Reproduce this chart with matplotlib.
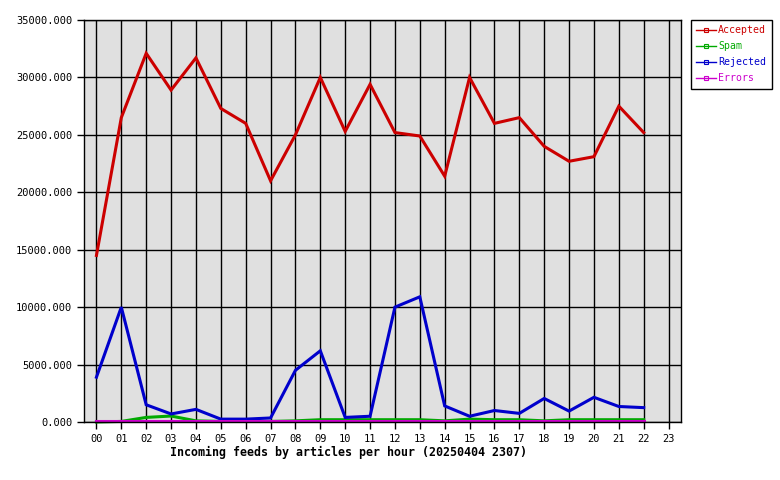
import matplotlib
matplotlib.use('Agg')
import matplotlib.pyplot as plt
from matplotlib.lines import Line2D
from matplotlib.ticker import FormatStrFormatter

hours = ['00', '01', '02', '03', '04', '05', '06', '07', '08', '09', '10', '11',
         '12', '13', '14', '15', '16', '17', '18', '19', '20', '21', '22', '23']

accepted = [14500, 26500, 32100, 28900, 31700, 27300, 26000, 21000, 25000, 30000,
            25300, 29400, 25200, 24900, 21400, 30000, 26000, 26500, 24000, 22700,
            23100, 27500, 25200]
spam = [0, 50, 400, 520, 100, 50, 50, 50, 100, 200, 200, 200, 200, 200, 100, 250,
        200, 200, 100, 200, 200, 200, 200]
rejected = [3900, 10000, 1500, 700, 1100, 250, 250, 350, 4500, 6200, 400, 500,
            10000, 10900, 1400, 500, 1000, 750, 2050, 950, 2150, 1350, 1250]
errors = [60] * 23

series = [('Accepted', accepted, '#cc0000'),
          ('Spam', spam, '#00aa00'),
          ('Rejected', rejected, '#0000cc'),
          ('Errors', errors, '#cc00cc')]

plt.rcParams['font.family'] = 'DejaVu Sans Mono'

fig = plt.figure(figsize=(7.8, 4.8), dpi=100)
ax = fig.add_axes([84 / 780, 1 - 422 / 480, (681 - 84) / 780, (422 - 20) / 480])
ax.set_facecolor('#e0e0e0')

x = list(range(len(accepted)))
handles = []
for name, vals, col in series:
    ax.plot(x, vals, color=col, linewidth=2.2, solid_joinstyle='miter', clip_on=False)
    handles.append(Line2D([0], [0], color=col, linewidth=1, marker='s',
                          markersize=3, markerfacecolor='none', markeredgewidth=0.8))

ax.set_xlim(-0.5, 23.5)
ax.set_ylim(0, 35000)
ax.set_xticks(range(24))
ax.set_xticklabels(hours)
ax.set_yticks(range(0, 35001, 5000))
ax.yaxis.set_major_formatter(FormatStrFormatter('%.3f'))
ax.grid(True, color='black', linewidth=1)
ax.set_axisbelow(True)
ax.tick_params(labelsize=7.5, length=5, width=1, color='black')
for s in ax.spines.values():
    s.set_linewidth(1)

fig.text(348 / 780, 1 - 452 / 480, 'Incoming feeds by articles per hour (20250404 2307)',
         ha='center', va='center', fontsize=8.4, fontweight='bold')

leg = fig.legend(handles, [s[0] for s in series], loc='upper left',
                 bbox_to_anchor=(691 / 780, 1 - 20 / 480), fontsize=7.1,
                 fancybox=False, edgecolor='black', framealpha=1,
                 handlelength=2.0, handletextpad=0.2, borderpad=0.55,
                 labelspacing=0.6, borderaxespad=0)
for txt, (_, _, col) in zip(leg.get_texts(), series):
    txt.set_color(col)

fig.savefig('out.png', dpi=100)
